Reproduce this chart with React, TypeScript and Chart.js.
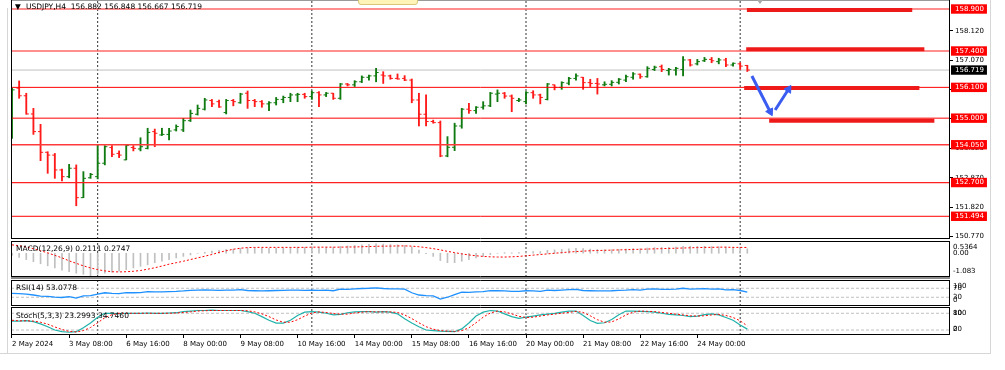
import React, { useEffect, useRef } from 'react';
import { Chart, registerables } from 'chart.js';

Chart.register(...registerables);

// ---------------- DATA ----------------
// USDJPY H4 bars, 2 May 2024 00:00 .. 27 May 2024 04:00 (index = bar number)
const opens = [
  154.34, 156.07, 155.80, 155.15, 154.52, 153.78, 153.68, 153.15, 152.91, 153.21,
  152.16, 152.87, 152.91, 153.39, 153.95, 153.74, 153.51, 153.95, 153.90, 153.92,
  154.52, 154.40, 154.42, 154.58, 154.58, 154.91, 155.14, 155.32, 155.63, 155.59,
  155.20, 155.63, 155.55, 155.89, 155.63, 155.59, 155.51, 155.55, 155.67, 155.74,
  155.83, 155.85, 155.77, 155.91, 155.83, 155.89, 155.71, 156.22, 156.19, 156.30,
  156.46, 156.51, 156.54, 156.51, 156.42, 156.42, 156.36, 155.65, 155.14, 154.88,
  154.84, 153.65, 153.96, 154.72, 155.32, 155.27, 155.39, 155.44, 155.86, 155.89,
  155.79, 155.63, 155.59, 155.91, 155.83, 155.67, 156.19, 156.10, 156.25, 156.42,
  156.46, 156.27, 156.24, 156.19, 156.21, 156.28, 156.36, 156.46, 156.57, 156.48,
  156.74, 156.84, 156.70, 156.72, 156.74, 157.08, 156.94, 157.05, 157.10, 157.02,
  157.08, 156.90, 156.94, 156.882,
];
const highs = [
  156.07, 156.33, 155.89, 155.35, 154.78, 153.80, 153.74, 153.18, 153.35, 153.33,
  153.09, 153.03, 154.04, 154.02, 154.02, 153.83, 154.04, 154.02, 154.30, 154.64,
  154.61, 154.64, 154.64, 154.76, 154.99, 155.29, 155.47, 155.71, 155.67, 155.65,
  155.67, 155.67, 155.89, 155.97, 155.67, 155.63, 155.59, 155.74, 155.79, 155.89,
  155.89, 155.89, 155.97, 155.95, 155.92, 155.89, 156.24, 156.24, 156.34, 156.51,
  156.54, 156.78, 156.66, 156.54, 156.58, 156.52, 156.40, 155.89, 155.83, 154.93,
  154.90, 154.34, 154.82, 155.35, 155.53, 155.41, 155.59, 155.92, 156.01, 155.92,
  155.83, 155.71, 155.95, 155.98, 155.86, 156.24, 156.19, 156.30, 156.46, 156.58,
  156.46, 156.39, 156.42, 156.30, 156.34, 156.42, 156.54, 156.63, 156.58, 156.84,
  156.86, 156.90, 156.78, 156.82, 157.20, 157.10, 157.10, 157.17, 157.17, 157.14,
  157.14, 156.98, 156.98, 156.89,
];
const lows = [
  154.28, 155.71, 155.14, 154.42, 153.48, 153.03, 152.85, 152.76, 152.87, 151.87,
  152.16, 152.85, 152.83, 153.33, 153.62, 153.59, 153.51, 153.83, 153.83, 153.90,
  153.98, 154.38, 154.22, 154.54, 154.52, 154.88, 155.11, 155.29, 155.41, 155.38,
  155.15, 155.44, 155.53, 155.35, 155.41, 155.39, 155.27, 155.47, 155.55, 155.59,
  155.59, 155.71, 155.67, 155.41, 155.77, 155.67, 155.67, 156.15, 156.13, 156.27,
  156.36, 156.30, 156.24, 156.39, 156.39, 156.34, 155.55, 154.72, 154.72, 154.82,
  153.62, 153.62, 153.84, 154.64, 155.17, 155.17, 155.32, 155.41, 155.59, 155.71,
  155.23, 155.59, 155.51, 155.71, 155.51, 155.65, 156.01, 156.03, 156.19, 156.36,
  156.03, 156.13, 155.86, 156.15, 156.15, 156.22, 156.30, 156.39, 156.42, 156.46,
  156.70, 156.66, 156.54, 156.54, 156.51, 156.86, 156.90, 157.02, 156.98, 156.94,
  156.84, 156.86, 156.74, 156.667,
];
const closes = [
  156.01, 155.80, 155.15, 154.52, 153.78, 153.68, 153.15, 152.91, 153.21, 152.16,
  152.85, 152.99, 153.39, 153.98, 153.71, 153.68, 154.02, 153.92, 153.98, 154.49,
  154.46, 154.42, 154.54, 154.70, 154.91, 155.17, 155.35, 155.65, 155.51, 155.40,
  155.63, 155.59, 155.86, 155.63, 155.59, 155.51, 155.55, 155.67, 155.74, 155.83,
  155.85, 155.77, 155.91, 155.83, 155.89, 155.71, 156.22, 156.19, 156.30, 156.46,
  156.51, 156.63, 156.51, 156.42, 156.40, 156.36, 155.65, 155.14, 154.88, 154.84,
  153.65, 153.96, 154.72, 155.32, 155.27, 155.39, 155.44, 155.89, 155.89, 155.79,
  155.71, 155.65, 155.91, 155.83, 155.74, 156.22, 156.10, 156.27, 156.42, 156.51,
  156.27, 156.24, 156.22, 156.21, 156.28, 156.39, 156.48, 156.58, 156.48, 156.78,
  156.82, 156.74, 156.74, 156.78, 157.08, 156.90, 157.02, 157.10, 157.05, 157.08,
  156.90, 156.96, 156.86, 156.719,
];

const macdMain = [
  -0.10, -0.20, -0.30, -0.40, -0.50, -0.60, -0.70, -0.80, -0.88, -0.95,
  -1.00, -1.08, -1.00, -0.95, -0.90, -0.85, -0.78, -0.70, -0.62, -0.55,
  -0.45, -0.38, -0.30, -0.22, -0.15, -0.08, 0.00, 0.05, 0.10, 0.14,
  0.18, 0.20, 0.24, 0.26, 0.26, 0.25, 0.24, 0.25, 0.26, 0.28,
  0.29, 0.29, 0.31, 0.30, 0.30, 0.29, 0.33, 0.35, 0.37, 0.40,
  0.42, 0.45, 0.44, 0.42, 0.40, 0.37, 0.30, 0.15, -0.02, -0.15,
  -0.35, -0.45, -0.45, -0.38, -0.30, -0.22, -0.15, -0.06, 0.00, 0.03,
  0.02, 0.03, 0.06, 0.08, 0.08, 0.14, 0.16, 0.18, 0.21, 0.23,
  0.22, 0.20, 0.18, 0.17, 0.17, 0.18, 0.20, 0.22, 0.22, 0.25,
  0.27, 0.28, 0.28, 0.29, 0.33, 0.33, 0.33, 0.33, 0.32, 0.31,
  0.29, 0.27, 0.24, 0.2111,
];
const macdSignal = [
  0.40, 0.36, 0.30, 0.22, 0.12, 0.02, -0.10, -0.22, -0.36, -0.48,
  -0.60, -0.70, -0.78, -0.84, -0.88, -0.89, -0.88, -0.86, -0.82, -0.76,
  -0.69, -0.61, -0.52, -0.45, -0.38, -0.30, -0.22, -0.14, -0.06, 0.04,
  0.12, 0.19, 0.24, 0.27, 0.28, 0.28, 0.28, 0.28, 0.28, 0.28,
  0.28, 0.28, 0.29, 0.29, 0.29, 0.29, 0.29, 0.30, 0.30, 0.31,
  0.32, 0.33, 0.34, 0.34, 0.35, 0.35, 0.34, 0.31, 0.27, 0.22,
  0.16, 0.09, 0.03, -0.03, -0.08, -0.12, -0.15, -0.17, -0.18, -0.18,
  -0.17, -0.15, -0.12, -0.09, -0.06, -0.03, 0.00, 0.03, 0.06, 0.08,
  0.10, 0.12, 0.13, 0.14, 0.15, 0.16, 0.17, 0.18, 0.19, 0.20,
  0.21, 0.22, 0.23, 0.24, 0.25, 0.26, 0.27, 0.28, 0.28, 0.29,
  0.29, 0.28, 0.28, 0.2747,
];
const rsiValues = [
  47, 46, 44, 40, 35, 34, 31, 29, 33, 26,
  36, 37, 44, 50, 47, 46, 51, 50, 51, 55,
  54, 54, 55, 56, 58, 61, 62, 63, 62, 61,
  62, 62, 64, 60, 59, 58, 59, 60, 61, 62,
  62, 61, 62, 61, 62, 59, 66, 65, 67, 69,
  70, 72, 69, 67, 67, 66, 50, 40, 37, 36,
  22, 30, 42, 53, 52, 54, 55, 59, 59, 58,
  56, 56, 59, 58, 56, 62, 60, 62, 64, 65,
  60, 59, 58, 58, 59, 61, 62, 64, 62, 66,
  67, 65, 65, 66, 70, 66, 67, 68, 66, 67,
  63, 64, 60, 53.0778,
];
const stochMain = [
  52, 52, 54, 50, 42, 32, 20, 14, 12, 14,
  28, 45, 66, 80, 80, 79, 80, 80, 80, 81,
  80, 80, 81, 82, 86, 88, 90, 90, 91, 90,
  90, 90, 90, 86, 80, 68, 55, 45, 45, 55,
  72, 84, 86, 84, 80, 74, 76, 82, 85, 86,
  86, 84, 86, 84, 78, 60, 45, 32, 20, 18,
  16, 15, 14, 24, 45, 70, 84, 90, 88, 78,
  68, 62, 66, 70, 74, 77, 80, 84, 88, 88,
  72, 54, 44, 46, 58, 75, 88, 88, 87, 86,
  84, 80, 76, 74, 72, 68, 70, 75, 78, 74,
  65, 55, 38, 23.2993,
];
const stochSignal = [
  55, 53, 53, 52, 48, 41, 31, 22, 15, 13,
  18, 29, 46, 64, 75, 80, 80, 80, 80, 80,
  80, 80, 80, 81, 83, 85, 88, 89, 90, 90,
  90, 90, 90, 89, 85, 78, 68, 56, 48, 48,
  57, 70, 81, 85, 83, 79, 77, 77, 81, 84,
  86, 85, 85, 85, 83, 74, 61, 46, 32, 23,
  18, 16, 15, 18, 28, 46, 66, 81, 88, 85,
  78, 69, 65, 66, 70, 74, 77, 80, 83, 87,
  83, 71, 57, 48, 49, 60, 74, 84, 88, 87,
  86, 83, 80, 77, 74, 71, 70, 71, 74, 76,
  72, 65, 53, 34.746,
];

const xTickBars = [0, 8, 16, 24, 32, 40, 48, 56, 64, 72, 80, 88, 96];
const xTickLabels = [
  '2 May 2024', '3 May 08:00', '6 May 16:00', '8 May 00:00', '9 May 08:00',
  '10 May 16:00', '14 May 00:00', '15 May 08:00', '16 May 16:00', '20 May 00:00',
  '21 May 08:00', '22 May 16:00', '24 May 00:00',
];
const weekSeparatorBars = [12, 42, 72, 102];

const priceGridTicks = [158.12, 157.07, 156.02, 154.97, 153.92, 152.87, 151.82, 150.77];
const levelPrices = [158.9, 157.4, 156.1, 155.0, 154.05, 152.7, 151.494];
const bidPrice = 156.719;

// drawn objects: thick zone segments and the two arrows
const zonePrices = [158.86, 157.46, 156.08, 154.91];
const zoneStartBars = [102.94, 102.84, 102.56, 106.06];
const zoneEndBars = [126.1, 127.8, 127.1, 129.2];
const arrowFromBars = [103.64, 106.9];
const arrowFromPrices = [156.506, 155.292];
const arrowToBars = [106.2, 108.77];
const arrowToPrices = [155.231, 156.031];

const macdTickValues = [0.5364, 0, -1.083];
const macdTickLabels = ['0.5364', '0.00', '-1.083'];
const rsiTickValues = [100, 70, 30, 0];
const rsiTickLabels = ['100', '70', '30', '0'];
const rsiLevels = [70, 30];
const stochTickValues = [100, 80, 20, 0];
const stochTickLabels = ['100', '80', '20', '0'];
const stochLevels = [80, 20];

const headerText = 'USDJPY,H4  156.882 156.848 156.667 156.719';
const macdTitle = 'MACD(12,26,9) 0.2111 0.2747';
const rsiTitle = 'RSI(14) 53.0778';
const stochTitle = 'Stoch(5,3,3) 23.2993 34.7460';

// ---------------- LAYOUT / STYLE ----------------
const CFONT = 'DejaVu Sans';
const HFONT = "'DejaVu Sans', sans-serif";
const PAD_LEFT = 11;
const AXIS_W = 55;
const X_MIN = -0.14;
const X_MAX = 131.39;
const MAIN_MIN = 150.6827;
const MAIN_MAX = 159.2215;
const MACD_MIN = -1.131;
const MACD_MAX = 0.584;
const RSI_MIN = -8.9;
const RSI_MAX = 106.7;
const STO_MIN = 2.2;
const STO_MAX = 102.5;
const LABEL_INSET = 6;
const TICK_SHIFT = 0.18;
const BULL = '#0f7a0f';
const BEAR = '#ff1a1a';
const ARROW = '#3a5cf0';
const levelColors = ['#ff6a6a', '#ff6a6a', '#ff0000', '#ff0000', '#ff3a3a', '#ff2020', '#ff0000'];
const levelWidths = [1.6, 1.6, 1, 1, 1.3, 1.3, 1];

const zeroPadding = (s: any) => {
  s.paddingTop = 0;
  s.paddingBottom = 0;
  s.paddingLeft = 0;
  s.paddingRight = 0;
};

const framePlugin = (sides: string) => ({
  id: 'frame',
  afterDatasetsDraw(chart: any) {
    const { ctx, chartArea: a } = chart;
    const l = Math.round(a.left) + 0.5;
    const r = Math.round(a.right) - 0.5;
    const t = Math.round(a.top) + 0.5;
    const b = Math.round(a.bottom) - 0.5;
    ctx.save();
    ctx.strokeStyle = '#000';
    ctx.lineWidth = 1;
    ctx.setLineDash([]);
    ctx.beginPath();
    if (sides.includes('t')) { ctx.moveTo(l - 0.5, t); ctx.lineTo(r + 0.5, t); }
    if (sides.includes('b')) { ctx.moveTo(l - 0.5, b); ctx.lineTo(r + 0.5, b); }
    if (sides.includes('l')) { ctx.moveTo(l, t - 0.5); ctx.lineTo(l, b + 0.5); }
    if (sides.includes('r')) { ctx.moveTo(r, t - 0.5); ctx.lineTo(r, b + 0.5); }
    ctx.stroke();
    ctx.restore();
  },
});

function xScale(showLabels: boolean) {
  return {
    type: 'linear',
    min: X_MIN,
    max: X_MAX,
    offset: false,
    display: showLabels,
    border: { display: false },
    grid: { display: true, drawOnChartArea: false, drawTicks: true, tickLength: 3, color: '#000' },
    ticks: {
      display: true,
      autoSkip: false,
      maxRotation: 0,
      minRotation: 0,
      align: 'start',
      padding: 2,
      color: '#000',
      font: { family: CFONT, size: 7 },
      callback: (_v: any, i: number) => xTickLabels[i] ?? '',
    },
    afterBuildTicks: (s: any) => { s.ticks = xTickBars.map((v) => ({ value: v })); },
    afterFit: (s: any) => {
      if (showLabels) s.height = 16;
      zeroPadding(s);
    },
  };
}

function indicatorY(min: number, max: number, areaH: number, values: number[], labels: string[]) {
  return {
    type: 'linear',
    position: 'right',
    min,
    max,
    border: { display: false },
    grid: { display: false, drawTicks: false },
    afterFit: (s: any) => { s.width = AXIS_W; zeroPadding(s); },
    afterBuildTicks: (s: any) => {
      const pad = ((max - min) * LABEL_INSET) / areaH;
      s.ticks = values.map((v) => ({ value: Math.min(max - pad, Math.max(min + pad, v)) }));
    },
    ticks: {
      autoSkip: false,
      padding: 3,
      color: '#000',
      font: { family: CFONT, size: 7 },
      callback: (_v: any, i: number) => labels[i] ?? '',
    },
  };
}

function baseOptions(padTop: number, padBottom: number, x: any, y: any) {
  return {
    responsive: false,
    animation: false,
    events: [],
    devicePixelRatio: 1,
    layout: { padding: { left: PAD_LEFT, right: 0, top: padTop, bottom: padBottom }, autoPadding: false },
    plugins: { legend: { display: false }, tooltip: { enabled: false }, title: { display: false } },
    elements: { line: { tension: 0 }, point: { radius: 0 } },
    scales: { x, y },
  };
}

const hLine = (y: number, color: string, width: number, dash: number[] = []) => ({
  type: 'line',
  data: [{ x: X_MIN, y }, { x: X_MAX, y }],
  borderColor: color,
  borderWidth: width,
  borderDash: dash,
  pointRadius: 0,
  fill: false,
});

const separators = (yMin: number, yMax: number) => ({
  type: 'line',
  data: weekSeparatorBars.flatMap((b) => [{ x: b, y: yMin }, { x: b, y: yMax }, { x: b, y: null }]),
  borderColor: '#333',
  borderWidth: 1,
  borderDash: [2, 2],
  pointRadius: 0,
  spanGaps: false,
  fill: false,
});

const series = (vals: number[]) => vals.map((v, i) => ({ x: i, y: v }));

function mainConfig(): any {
  const barColors = opens.map((o, i) => (closes[i] >= o ? BULL : BEAR));
  const mainTicks = [
    ...priceGridTicks.map((v) => ({ value: v, kind: 'grid' })),
    ...levelPrices.map((v) => ({ value: v, kind: 'level' })),
    { value: bidPrice, kind: 'bid' },
  ];
  const arrows = arrowFromBars.map((fb, k) => ({
    type: 'line',
    data: [{ x: fb, y: arrowFromPrices[k] }, { x: arrowToBars[k], y: arrowToPrices[k] }],
    borderColor: ARROW,
    borderWidth: 3,
    pointRadius: [0, 4.5],
    pointStyle: 'triangle',
    pointBackgroundColor: ARROW,
    pointBorderColor: ARROW,
    pointBorderWidth: 1,
    pointRotation: (ctx: any) => {
      const sx = ctx.chart.scales.x;
      const sy = ctx.chart.scales.y;
      const dx = sx.getPixelForValue(arrowToBars[k]) - sx.getPixelForValue(fb);
      const dy = sy.getPixelForValue(arrowToPrices[k]) - sy.getPixelForValue(arrowFromPrices[k]);
      return (Math.atan2(dx, -dy) * 180) / Math.PI;
    },
    fill: false,
  }));
  const zones = zonePrices.map((p, k) => ({
    type: 'line',
    data: [{ x: zoneStartBars[k], y: p }, { x: zoneEndBars[k], y: p }],
    borderColor: '#ee1a1a',
    borderWidth: 4,
    borderCapStyle: 'butt',
    pointRadius: 0,
    fill: false,
  }));
  const levels = levelPrices.map((p, k) => hLine(p, levelColors[k], levelWidths[k]));
  return {
    type: 'line',
    data: {
      datasets: [
        ...arrows,
        ...zones,
        ...levels,
        {
          type: 'line', showLine: false,
          data: opens.map((o, i) => ({ x: i - TICK_SHIFT, y: o })),
          pointStyle: 'line', pointRadius: 1.3, pointBorderWidth: 1,
          pointBorderColor: barColors, pointBackgroundColor: barColors,
        },
        {
          type: 'line', showLine: false,
          data: closes.map((c, i) => ({ x: i + TICK_SHIFT, y: c })),
          pointStyle: 'line', pointRadius: 1.3, pointBorderWidth: 1,
          pointBorderColor: barColors, pointBackgroundColor: barColors,
        },
        {
          type: 'bar',
          data: opens.map((_o, i) => ({ x: i, y: [lows[i], highs[i]] })),
          backgroundColor: barColors,
          borderWidth: 0,
          barThickness: 1.2,
        },
        hLine(bidPrice, '#c0c0c0', 1),
        separators(MAIN_MIN, MAIN_MAX),
      ],
    },
    options: baseOptions(0, 6, xScale(false), {
      type: 'linear',
      position: 'right',
      min: MAIN_MIN,
      max: MAIN_MAX,
      border: { display: false },
      afterFit: (s: any) => { s.width = AXIS_W; zeroPadding(s); },
      afterBuildTicks: (s: any) => { s.ticks = mainTicks.map((t) => ({ ...t })); },
      grid: {
        display: true,
        drawOnChartArea: false,
        drawTicks: true,
        tickLength: 3,
        color: (ctx: any) => (ctx.tick && ctx.tick.kind === 'grid' ? '#000' : 'rgba(0,0,0,0)'),
      },
      ticks: {
        autoSkip: false,
        padding: 2,
        font: { family: CFONT, size: 7 },
        color: (ctx: any) => (ctx.tick && ctx.tick.kind !== 'grid' ? '#fff' : '#000'),
        showLabelBackdrop: (ctx: any) => !!(ctx.tick && ctx.tick.kind !== 'grid'),
        backdropColor: (ctx: any) => (ctx.tick && ctx.tick.kind === 'bid' ? '#000' : '#ff0000'),
        backdropPadding: { left: 4, right: 3, top: 0.5, bottom: 0.5 },
        callback: (v: any) => Number(v).toFixed(3),
      },
    }),
    plugins: [framePlugin('lrb')],
  };
}

function macdConfig(): any {
  return {
    type: 'line',
    data: {
      datasets: [
        { type: 'line', data: series(macdSignal), borderColor: '#ff0000', borderWidth: 1, borderDash: [2, 2], pointRadius: 0, fill: false },
        { type: 'bar', data: series(macdMain), backgroundColor: '#c0c0c0', borderWidth: 0, barThickness: 1 },
        separators(MACD_MIN, MACD_MAX),
      ],
    },
    options: baseOptions(6, 6, xScale(false), indicatorY(MACD_MIN, MACD_MAX, 36, macdTickValues, macdTickLabels)),
    plugins: [framePlugin('lrtb')],
  };
}

function rsiConfig(): any {
  return {
    type: 'line',
    data: {
      datasets: [
        { type: 'line', data: series(rsiValues), borderColor: '#1e90ff', borderWidth: 1.3, pointRadius: 0, fill: false },
        ...rsiLevels.map((v) => hLine(v, '#c0c0c0', 1, [3, 2])),
        separators(RSI_MIN, RSI_MAX),
      ],
    },
    options: baseOptions(6, 6, xScale(false), indicatorY(RSI_MIN, RSI_MAX, 26, rsiTickValues, rsiTickLabels)),
    plugins: [framePlugin('lrtb')],
  };
}

function stochConfig(): any {
  return {
    type: 'line',
    data: {
      datasets: [
        { type: 'line', data: series(stochSignal), borderColor: '#ff0000', borderWidth: 1, borderDash: [2, 2], pointRadius: 0, fill: false },
        { type: 'line', data: series(stochMain), borderColor: '#20b2aa', borderWidth: 1.2, pointRadius: 0, fill: false },
        ...stochLevels.map((v) => hLine(v, '#c0c0c0', 1, [3, 2])),
        separators(STO_MIN, STO_MAX),
      ],
    },
    options: baseOptions(6, 19, xScale(true), indicatorY(STO_MIN, STO_MAX, 28, stochTickValues, stochTickLabels)),
    plugins: [framePlugin('lrtb')],
  };
}

const abs = (s: any) => ({ position: 'absolute', ...s } as React.CSSProperties);
const textStyle = (left: number, top: number): React.CSSProperties => ({
  position: 'absolute', left, top, fontFamily: HFONT, fontSize: 7.5, lineHeight: '8px',
  color: '#000', whiteSpace: 'pre',
});

export default function App() {
  const mainRef = useRef<HTMLCanvasElement>(null);
  const macdRef = useRef<HTMLCanvasElement>(null);
  const rsiRef = useRef<HTMLCanvasElement>(null);
  const stochRef = useRef<HTMLCanvasElement>(null);

  useEffect(() => {
    const charts = [
      new Chart(mainRef.current as HTMLCanvasElement, mainConfig()),
      new Chart(macdRef.current as HTMLCanvasElement, macdConfig()),
      new Chart(rsiRef.current as HTMLCanvasElement, rsiConfig()),
      new Chart(stochRef.current as HTMLCanvasElement, stochConfig()),
    ];
    return () => charts.forEach((c) => c.destroy());
  }, []);

  return (
    <div style={abs({ position: 'fixed', left: 0, top: 0, width: 1005, height: 370, background: '#fff', overflow: 'hidden' })}>
      <div style={abs({ left: 7, top: 8, width: 1, height: 345, background: '#d6d6d6' })} />
      <div style={abs({ left: 990, top: 0, width: 1, height: 354, background: '#d6d6d6' })} />
      <div style={abs({ left: 0, top: 353, width: 991, height: 1, background: '#d6d6d6' })} />
      <div style={abs({ left: 11, top: 0, width: 939, height: 1, background: '#9a9a9a' })} />
      <div style={abs({ left: 11, top: 277, width: 939, height: 2, background: '#8c8c8c' })} />
      <canvas ref={mainRef} width={1005} height={245} style={abs({ left: 0, top: 0 })} />
      <canvas ref={macdRef} width={1005} height={48} style={abs({ left: 0, top: 235 })} />
      <canvas ref={rsiRef} width={1005} height={38} style={abs({ left: 0, top: 274 })} />
      <canvas ref={stochRef} width={1005} height={69} style={abs({ left: 0, top: 301 })} />
      <div style={abs({ left: 358, top: -4, width: 58, height: 7, background: '#fff3b8', border: '1px solid #d9c67a', borderRadius: 3 })} />
      <div style={abs({ left: 757, top: 0, width: 0, height: 0, borderLeft: '3px solid transparent', borderRight: '3px solid transparent', borderTop: '4px solid #a8a8a8' })} />
      <div style={textStyle(15, 3)}>▼</div>
      <div style={textStyle(26, 3)}>{headerText}</div>
      <div style={textStyle(16, 245)}>{macdTitle}</div>
      <div style={textStyle(16, 284)}>{rsiTitle}</div>
      <div style={textStyle(16, 312)}>{stochTitle}</div>
    </div>
  );
}
